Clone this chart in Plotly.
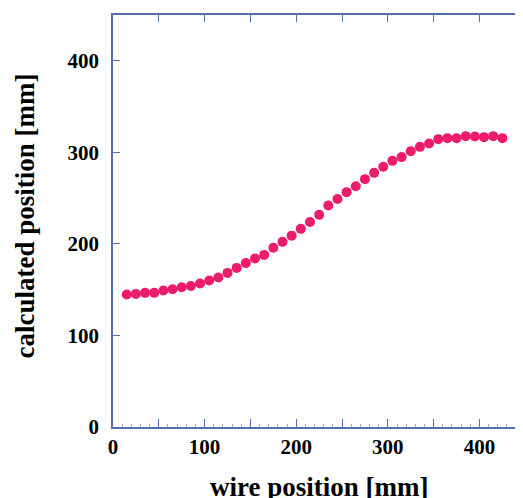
import plotly.graph_objects as go

wire_position = [15, 25, 35, 45, 55, 65, 75, 85, 95, 105, 115, 125, 135, 145, 155,
                 165, 175, 185, 195, 205, 215, 225, 235, 245, 255, 265, 275, 285, 295,
                 305, 315, 325, 335, 345, 355, 365, 375, 385, 395, 405, 415, 425]
calculated_position = [144.7, 145.4, 146.5, 146.5, 149.0, 150.5, 152.7, 154.0, 156.7, 160.0,
                       163.3, 168.3, 173.8, 179.0, 184.0, 188.0, 195.7, 202.2, 209.0, 216.4,
                       224.0, 231.7, 242.0, 249.0, 256.5, 263.0, 270.7, 277.6, 284.2, 290.7,
                       294.8, 301.3, 306.0, 309.7, 314.4, 315.5, 315.5, 317.7, 317.3, 316.6,
                       317.7, 315.5]

x_tick_vals = [0, 50, 100, 150, 200, 250, 300, 350, 400]
x_tick_text = ["0", "", "100", "", "200", "", "300", "", "400"]
y_tick_vals = [0, 100, 200, 300, 400]
y_tick_text = ["0", "100", "200", "300", "400"]

AXIS = "#5470A8"
PINK = "#EC1C6C"
FONT = "Liberation Serif"
X_RANGE = [0, 447.5]
Y_RANGE = [0, 450]

# page body has an 8px margin, so the figure is sized/positioned to compensate
W, H = 515, 490
ML, MR, MT, MB = 105, 0, 7, 71
PW, PH = W - ML - MR, H - MT - MB

fig = go.Figure()
fig.add_trace(go.Scatter(
    x=wire_position, y=calculated_position, mode="markers",
    marker=dict(color=PINK, size=10, line=dict(width=0)),
    showlegend=False,
))
fig.add_trace(go.Scatter(x=[None], y=[None], xaxis="x2", yaxis="y2",
                         showlegend=False, hoverinfo="skip"))

tickfont = dict(family=FONT, size=21, color="black", weight="bold")
titlefont = dict(family=FONT, size=27, color="black", weight="bold")

fig.update_layout(
    width=W, height=H,
    margin=dict(l=ML, r=MR, t=MT, b=MB),
    paper_bgcolor="white", plot_bgcolor="white",
    xaxis=dict(range=X_RANGE, showgrid=False, zeroline=False,
               showline=True, linecolor=AXIS, linewidth=1.5,
               ticks="inside", ticklen=8, tickcolor=AXIS, tickwidth=1,
               tickvals=x_tick_vals, ticktext=x_tick_text,
               tickfont=tickfont,
               minor=dict(ticks="inside", dtick=10, ticklen=3, tickcolor="#9AAAC8", showgrid=False)),
    yaxis=dict(range=Y_RANGE, showgrid=False, zeroline=False,
               showline=True, linecolor=AXIS, linewidth=1.5,
               ticks="inside", ticklen=7, tickcolor=AXIS, tickwidth=1,
               tickvals=y_tick_vals, ticktext=y_tick_text,
               tickfont=tickfont, ticklabelstandoff=8),
    xaxis2=dict(range=X_RANGE, overlaying="x", side="top", anchor="y",
                showgrid=False, zeroline=False, showline=True, linecolor=AXIS, linewidth=1.5,
                ticks="inside", ticklen=7, tickcolor=AXIS, tickwidth=1,
                tickvals=x_tick_vals, showticklabels=False),
    yaxis2=dict(range=Y_RANGE, overlaying="y", side="right", anchor="x",
                showgrid=False, zeroline=False, showline=False,
                ticks="inside", ticklen=6, tickcolor=AXIS, tickwidth=1,
                tickvals=y_tick_vals, showticklabels=False),
    annotations=[
        dict(text="wire position [mm]", xref="paper", yref="paper",
             x=(311 - ML) / PW, y=-(479 - (MT + PH)) / PH, xanchor="center", yanchor="middle",
             showarrow=False, font=titlefont),
        dict(text="calculated position [mm]", xref="paper", yref="paper",
             x=(17 - ML) / PW, y=((MT + PH) - 208.5) / PH, xanchor="center", yanchor="middle",
             textangle=-90, showarrow=False, font=titlefont),
    ],
)

fig.write_html("out.html")
